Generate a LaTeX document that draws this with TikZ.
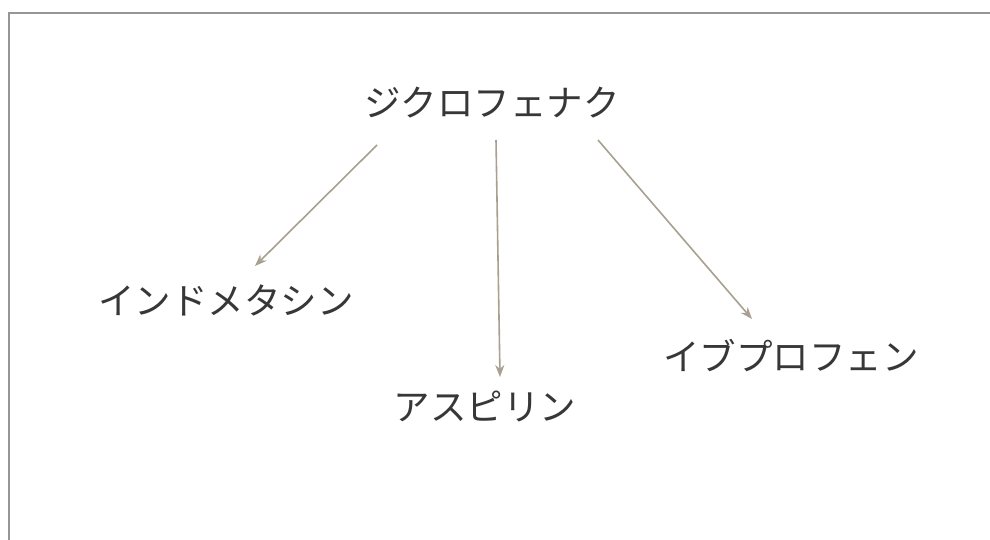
\documentclass[tikz,border=0pt]{standalone}
\usepackage{fontspec}
\newfontfamily\cjk{Noto Sans CJK JP}
\definecolor{framegray}{RGB}{150,150,150}
\definecolor{arrowtan}{RGB}{168,160,144}
\definecolor{textgray}{RGB}{55,55,55}
\tikzset{
  drug/.style={font=\cjk\fontsize{36.5}{40}\selectfont, text=textgray, inner sep=0pt},
  link/.style={draw=arrowtan, line width=1.6pt, -{Stealth[length=12pt,width=9pt]}},
}
\usetikzlibrary{arrows.meta}
\begin{document}
\begin{tikzpicture}[x=1pt,y=-1pt]
\useasboundingbox (0,0) rectangle (990,540);
\fill[white] (0,0) rectangle (990,540);
\draw[framegray, line width=2.5pt] (9,540) -- (9,13) -- (990,13);
\node[drug] (d) at (492,103) {ジクロフェナク};
\node[drug] (i) at (226,300) {インドメタシン};
\node[drug] (a) at (485,406) {アスピリン};
\node[drug] (b) at (791,355) {イブプロフェン};
\coordinate (d1) at (377,145);
\coordinate (d2) at (496,140);
\coordinate (d3) at (598,140);
\coordinate (i1) at (255,266);
\coordinate (a1) at (500,377);
\coordinate (b1) at (752,319);
\draw[link] (d1) -- (i1);
\draw[link] (d2) -- (a1);
\draw[link] (d3) -- (b1);
\end{tikzpicture}
\end{document}
